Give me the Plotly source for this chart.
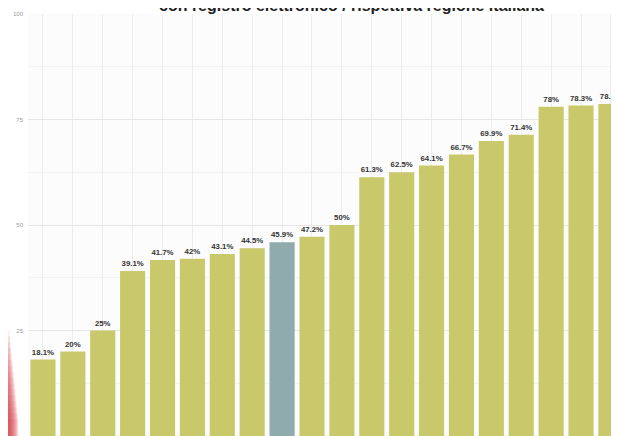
import plotly.graph_objects as go

regions = ["Calabria", "Sicilia", "Campania", "Puglia", "Basilicata", "Sardegna", "Molise",
           "Abruzzo", "Italia", "Lazio", "Liguria", "Umbria", "Marche", "Toscana",
           "Piemonte", "Lombardia", "Veneto", "Emilia-Romagna", "Friuli-Venezia Giulia", "Trentino-Alto Adige"]
values = [18.1, 20, 25, 39.1, 41.7, 42, 43.1, 44.5, 45.9, 47.2, 50, 61.3, 62.5, 64.1,
          66.7, 69.9, 71.4, 78, 78.3, 78.7]
highlight = "Italia"
ytick_vals = [0, 25, 50, 75, 100]

olive = "#c9c96c"
teal = "#8fabad"
colors = [teal if r == highlight else olive for r in regions]

fig = go.Figure(go.Bar(
    x=regions, y=values,
    marker=dict(color=colors, line=dict(width=0)),
    texttemplate="<b>%{y}%</b>",
    textposition="outside",
    textfont=dict(family="Liberation Sans", size=7.8, color="#333333"),
    cliponaxis=True,
))

# faint red bleed on left-bottom edge of the screenshot
plot_w = 591.0
x_left = -20.0 / plot_w
for i in range(16):
    w = (1.5 + i * 0.6) / plot_w
    top = 0.25 - i * 0.014
    fig.add_shape(type="rect", xref="paper", yref="paper",
                  x0=x_left, x1=x_left + w, y0=0, y1=top,
                  fillcolor="#d93a44", opacity=0.1, line=dict(width=0), layer="above")

fig.add_annotation(
    text="<b>con registro elettronico / rispettiva regione italiana</b>",
    xref="paper", yref="paper", x=0.548, y=1, yanchor="bottom", yshift=-2,
    showarrow=False, font=dict(family="Liberation Sans", size=16, color="#222222"),
)

fig.update_layout(
    width=611, height=428,
    margin=dict(l=20, r=0, t=6, b=0),
    paper_bgcolor="#ffffff", plot_bgcolor="#fcfcfc",
    bargap=0.16,
    showlegend=False,
    xaxis=dict(range=[-0.5, 19.27], showticklabels=False, showgrid=True,
               gridcolor="#ececec", gridwidth=1, zeroline=False, ticks=""),
    yaxis=dict(range=[0, 100], tickvals=ytick_vals, showgrid=True, gridcolor="#e6e6e6",
               zeroline=False, ticks="", ticklabelstandoff=4,
               tickfont=dict(family="Liberation Sans", size=6, color="#999999"),
               minor=dict(dtick=12.5, tick0=0, showgrid=True, gridcolor="#f3f3f3")),
)

fig.write_html("out.html")
